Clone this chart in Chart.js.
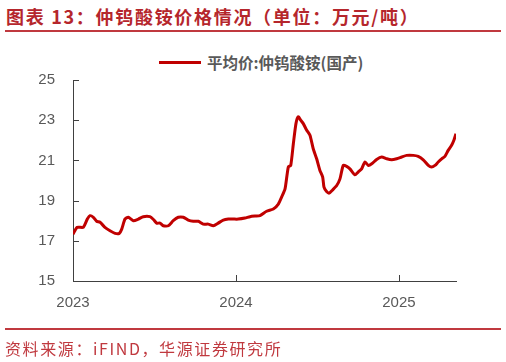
<!DOCTYPE html>
<html>
<head>
<meta charset="utf-8">
<script src="https://cdn.jsdelivr.net/npm/chart.js@4/dist/chart.umd.min.js"></script>
<style>
  html, body { margin: 0; padding: 0; background: #fff; }
  body { width: 506px; height: 362px; position: relative; overflow: hidden; }
  #title {
    position: absolute; left: 6px; top: 3px;
    font: bold 18px "Noto Sans CJK SC", sans-serif; color: #b5262c;
    letter-spacing: 1.7px; white-space: nowrap;
  }
  .rule { position: absolute; left: 5px; width: 496px; height: 2px; background: #c0393f; }
  #legend {
    position: absolute; left: 159px; top: 52px; height: 20px;
    display: flex; align-items: center;
    font: bold 15.5px "Noto Sans CJK SC", sans-serif; color: #595959; white-space: nowrap;
  }
  #legend .swatch { width: 42px; height: 3px; background: #c00000; margin-right: 6px; }
  #source {
    position: absolute; left: 5px; top: 336px;
    font: 16px "Noto Sans CJK SC", sans-serif; color: #c0393f;
    letter-spacing: 1.6px; white-space: nowrap;
  }
  #wrap { position: absolute; left: 0; top: 0; width: 506px; height: 362px; }
</style>
</head>
<body>
<div id="title">图表 13：仲钨酸铵价格情况（单位：万元/吨）</div>
<div class="rule" style="top:30px"></div>
<div id="legend"><span class="swatch"></span><span>平均价:仲钨酸铵(国产)</span></div>
<div id="wrap"><canvas id="chart"></canvas></div>
<div class="rule" style="top:328px"></div>
<div id="source">资料来源：iFIND，华源证券研究所</div>

<script>
// 时间（以年为单位的小数）与价格（万元/吨）
const years = [
  2023.000, 2023.026, 2023.063, 2023.088, 2023.104, 2023.125, 2023.145, 2023.166,
  2023.196, 2023.227, 2023.258, 2023.284, 2023.299, 2023.319, 2023.339, 2023.370,
  2023.401, 2023.431, 2023.472, 2023.497, 2023.513, 2023.534, 2023.554, 2023.585,
  2023.615, 2023.646, 2023.677, 2023.707, 2023.738, 2023.769, 2023.799, 2023.830,
  2023.861, 2023.891, 2023.922, 2023.953, 2023.983, 2024.014, 2024.055, 2024.086,
  2024.117, 2024.147, 2024.188, 2024.229, 2024.260, 2024.280, 2024.301, 2024.321,
  2024.336, 2024.352, 2024.368, 2024.382, 2024.397, 2024.413, 2024.434, 2024.454,
  2024.474, 2024.495, 2024.515, 2024.532, 2024.540, 2024.556, 2024.572, 2024.593,
  2024.618, 2024.638, 2024.658, 2024.679, 2024.699, 2024.730, 2024.750, 2024.771,
  2024.791, 2024.812, 2024.833, 2024.863, 2024.894, 2024.925, 2024.955, 2024.986,
  2025.017, 2025.047, 2025.088, 2025.118, 2025.149, 2025.180, 2025.200, 2025.221,
  2025.241, 2025.262, 2025.282, 2025.302, 2025.323, 2025.337, 2025.350
];
const prices = [
  17.33, 17.67, 17.67, 18.08, 18.25, 18.17, 17.97, 17.92,
  17.67, 17.50, 17.37, 17.37, 17.58, 18.08, 18.17, 18.00,
  18.08, 18.20, 18.20, 18.03, 17.88, 17.88, 17.75, 17.75,
  18.00, 18.17, 18.17, 18.03, 17.97, 17.97, 17.83, 17.83,
  17.75, 17.88, 18.03, 18.08, 18.08, 18.08, 18.13, 18.20,
  18.23, 18.25, 18.47, 18.58, 18.83, 19.17, 19.58, 20.67,
  20.75, 21.83, 22.83, 23.17, 23.00, 22.83, 22.50, 22.25,
  21.58, 21.08, 20.50, 20.17, 19.67, 19.45, 19.37, 19.53,
  19.75, 20.08, 20.75, 20.70, 20.58, 20.28, 20.42, 20.58,
  20.92, 20.75, 20.83, 21.05, 21.17, 21.08, 21.03, 21.08,
  21.17, 21.25, 21.25, 21.20, 21.03, 20.75, 20.67, 20.75,
  20.92, 21.08, 21.20, 21.50, 21.75, 22.00, 22.33
];
const yearTicks = [2023, 2024, 2025];
const priceTicks = [15, 17, 19, 21, 23, 25];

const AXIS_COLOR = '#404040';
const LABEL_COLOR = '#595959';

// 坐标轴刻度线画在绘图区内侧
const innerTicks = {
  id: 'innerTicks',
  afterDraw(chart) {
    const { ctx, chartArea, scales } = chart;
    ctx.save();
    ctx.strokeStyle = AXIS_COLOR;
    ctx.lineWidth = 1;
    ctx.beginPath();
    priceTicks.forEach((v) => {
      const y = Math.round(scales.y.getPixelForValue(v)) + 0.5;
      ctx.moveTo(chartArea.left, y);
      ctx.lineTo(chartArea.left + 6, y);
    });
    yearTicks.forEach((v) => {
      const x = Math.round(scales.x.getPixelForValue(v)) + 0.5;
      ctx.moveTo(x, chartArea.bottom);
      ctx.lineTo(x, chartArea.bottom - 6);
    });
    ctx.stroke();
    ctx.restore();
  },
};

new Chart(document.getElementById('chart'), {
  type: 'line',
  data: {
    datasets: [{
      label: '平均价:仲钨酸铵(国产)',
      data: years.map((x, i) => ({ x, y: prices[i] })),
      borderColor: '#c00000',
      borderWidth: 3,
      pointRadius: 0,
      tension: 0.2,
    }],
  },
  options: {
    responsive: true,
    maintainAspectRatio: false,
    animation: false,
    layout: { padding: { top: 80, right: 50, bottom: 0, left: 0 } },
    plugins: { legend: { display: false }, tooltip: { enabled: false } },
    scales: {
      x: {
        type: 'linear',
        min: 2023,
        max: 2025.35,
        afterBuildTicks: (s) => { s.ticks = yearTicks.map((v) => ({ value: v })); },
        afterFit: (s) => { s.height = 81; },
        grid: { display: false },
        border: { color: AXIS_COLOR, width: 1 },
        ticks: {
          color: LABEL_COLOR,
          font: { family: 'Liberation Sans', size: 15 },
          padding: 5,
          maxRotation: 0,
          callback: (v) => String(v),
        },
      },
      y: {
        min: 15,
        max: 25,
        afterBuildTicks: (s) => { s.ticks = priceTicks.map((v) => ({ value: v })); },
        afterFit: (s) => { s.width = 73; },
        grid: { display: false },
        border: { color: AXIS_COLOR, width: 1 },
        ticks: {
          color: LABEL_COLOR,
          font: { family: 'Liberation Sans', size: 15 },
          padding: 10,
        },
      },
    },
  },
  plugins: [innerTicks],
});
</script>
</body>
</html>
